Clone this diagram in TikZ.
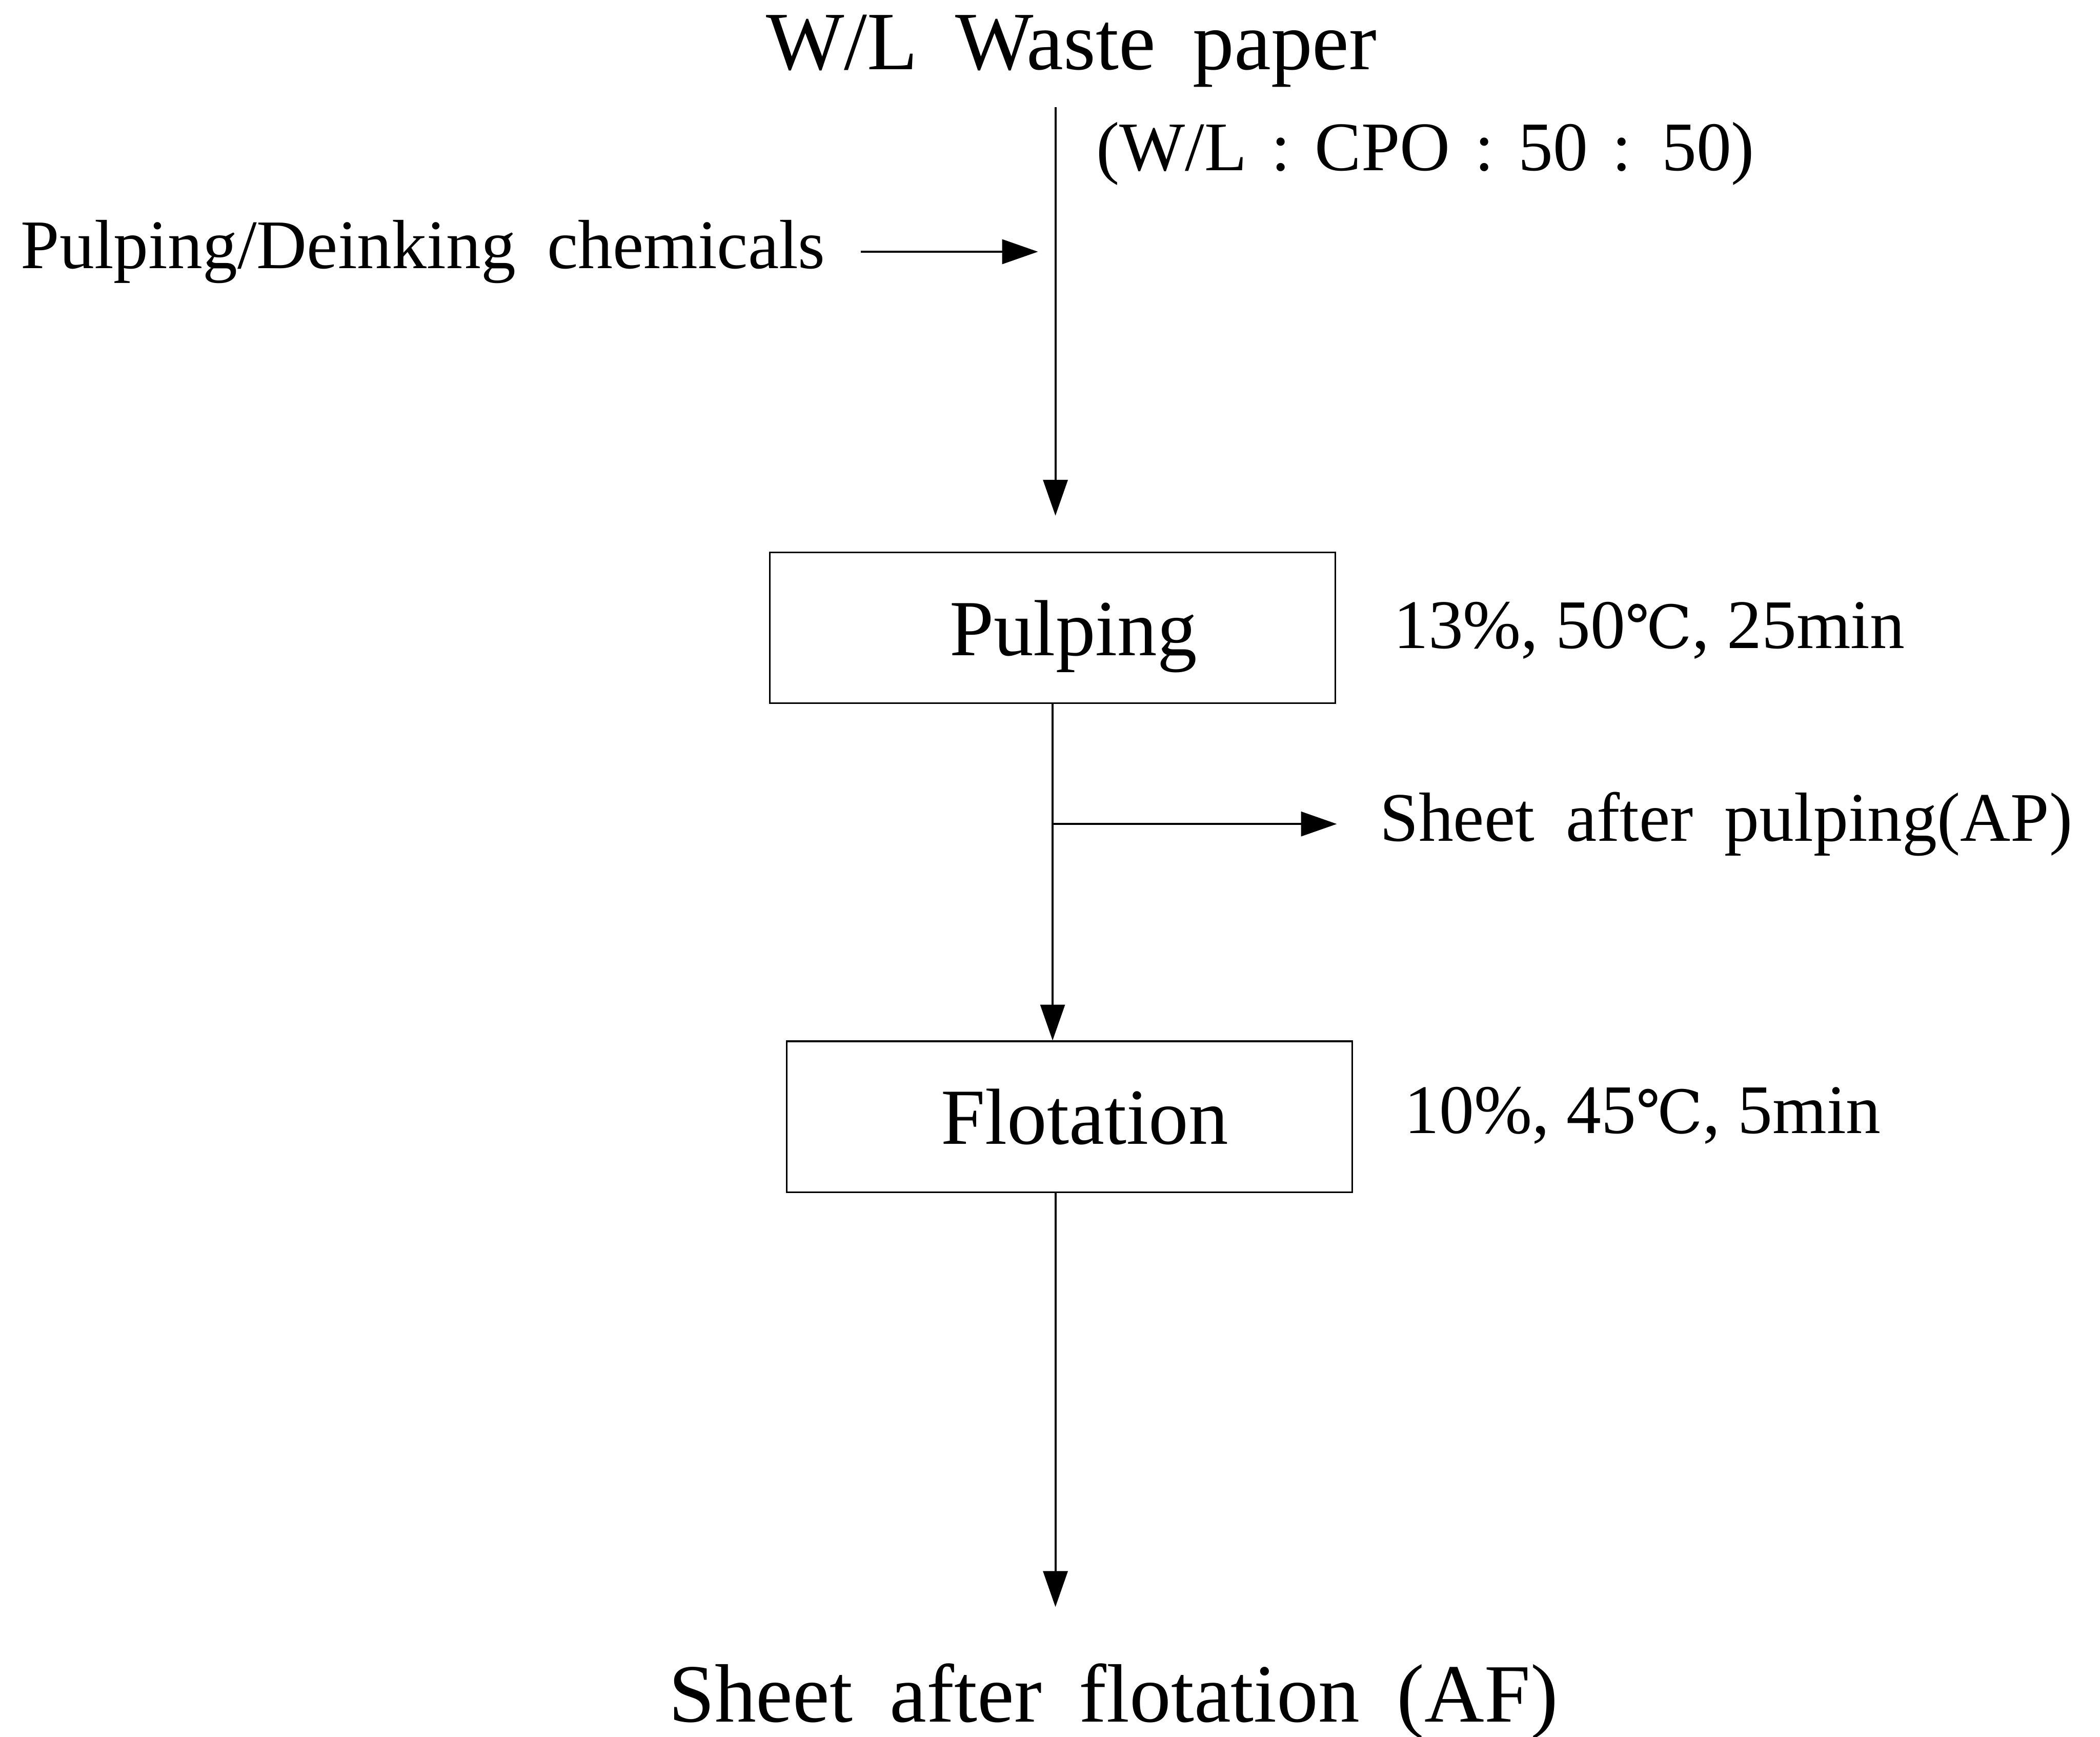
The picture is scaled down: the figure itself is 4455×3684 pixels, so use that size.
\documentclass[tikz,border=0pt]{standalone}
\usepackage{fontspec}
\setmainfont{Liberation Serif}
\newfontfamily\symfont{DejaVu Serif}
\newcommand{\tempC}{{\symfont\fontsize{18}{22}\selectfont ℃}}
\usetikzlibrary{arrows.meta, positioning}

\tikzset{
    stepbox/.style={draw, line width=0.5pt, minimum width=60mm, minimum height=16mm, text depth=0pt, font=\fontsize{24}{28}\selectfont},
    side/.style={anchor=west, inner sep=0pt, font=\fontsize{21}{25}\selectfont},
    spaced/.style={execute at begin node={\spaceskip=#1\relax}},
    spaced/.default=0.45em,
    title/.style={font=\fontsize{25}{30}\selectfont, spaced},
    flow/.style={-{Triangle[length=3.8mm, width=2.6mm]}, line width=0.6pt},
}

\begin{document}
\begin{tikzpicture}[x=0.05mm, y=-0.05mm]
    \useasboundingbox (0,0) rectangle (4455,3684);
    \node[title] (waste) at (2273,108) {W/L Waste paper};
    \node[side, spaced=0.35em] (ratio) at (2324,326) {(W/L : CPO : 50 : 50)};
    \node[side, spaced] (chem) at (43,534) {Pulping/Deinking chemicals};
    \node[stepbox] (pulp) at (2233,1332) {\hspace*{4.4mm}Pulping};
    \node[side] (cond1) at (2955,1338) {13\%, 50\tempC, 25min};
    \node[side, spaced] (ap) at (2926,1748) {Sheet after pulping(AP)};
    \node[stepbox] (flot) at (2269,2369) {\hspace*{3.2mm}Flotation};
    \node[side] (cond2) at (2978,2366) {10\%, 45\tempC, 5min};
    \node[title] (af) at (2362,3610) {Sheet after flotation (AF)};
    \coordinate (feed) at (2239,227);
    \coordinate (mix) at (2239,1094);
    \coordinate (dose) at (2202,534);
    \coordinate (out) at (2239,3409);

    \draw[flow] (feed) -- (mix);
    \draw[flow] ([xshift=3.7mm]chem.east) -- (chem.east -| dose);
    \draw[flow] (pulp.south) -- (pulp.south |- flot.north);
    \draw[flow] (pulp.south |- ap.west) -- ([xshift=-4.5mm]ap.west);
    \draw[flow] (flot.south -| out) -- (out);
\end{tikzpicture}
\end{document}
